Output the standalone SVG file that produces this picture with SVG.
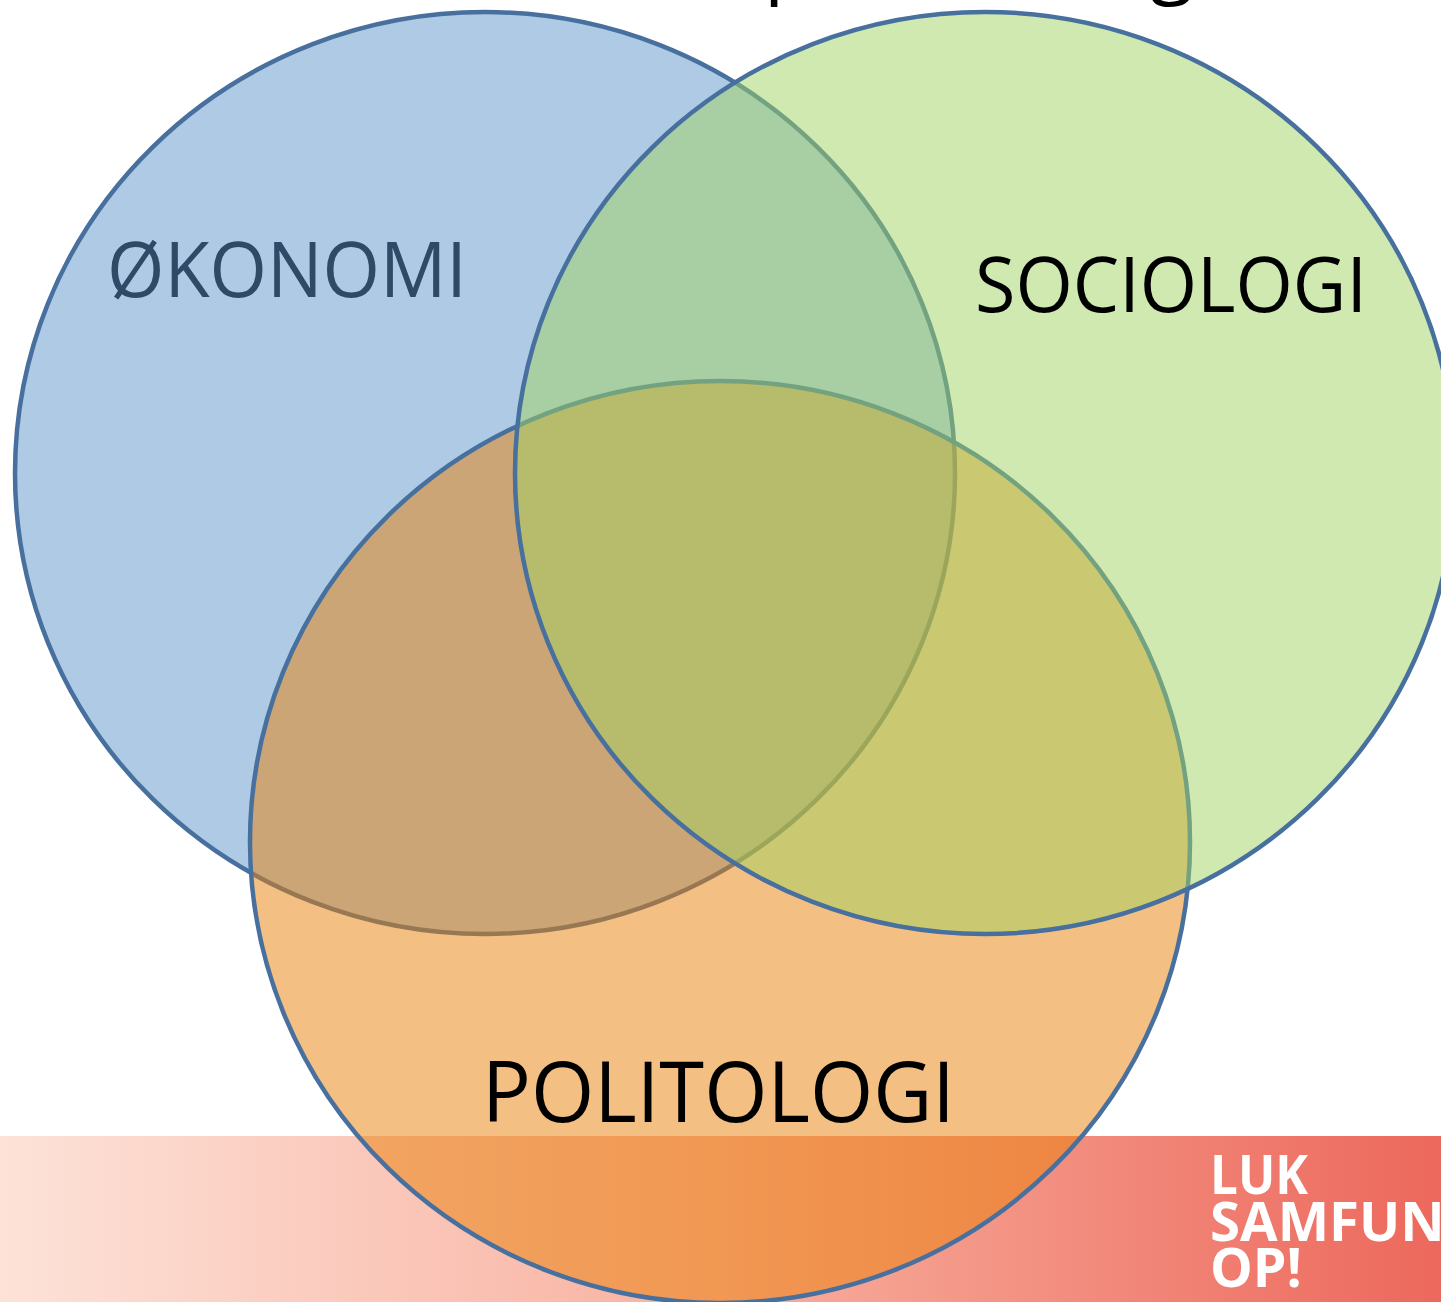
<svg xmlns="http://www.w3.org/2000/svg" width="1441" height="1302" viewBox="0 0 1441 1302">
  <defs>
    <linearGradient id="band" x1="0" y1="0" x2="1441" y2="0" gradientUnits="userSpaceOnUse">
      <stop offset="0" stop-color="#fde2d8"/>
      <stop offset="0.5" stop-color="#f8b09f"/>
      <stop offset="1" stop-color="#ec685c"/>
    </linearGradient>
  </defs>
  <style>
    .ring { stroke: #47709f; stroke-width: 4.5; }
    .lbl { font-family: "Open Sans", "Liberation Sans", Arial, sans-serif; }
    .logo { font-family: "Open Sans", "Liberation Sans", sans-serif; font-weight: bold; fill: #ffffff; font-size: 54px; }
    .title { font-family: "Open Sans", "Liberation Sans", sans-serif; font-size: 80px; fill: #000000; }
  </style>
  <rect width="1441" height="1302" fill="#ffffff"/>
  <g id="title">
    <text class="title" x="764" y="-12">p</text>
    <text class="title" x="1150" y="-12">g</text>
  </g>
  <g id="footer-band">
    <rect x="0" y="1136" width="1441" height="166" fill="url(#band)"/>
  </g>
  <g id="okonomi">
    <ellipse class="ring" cx="485" cy="473" rx="470" ry="461" fill="#aecae4"/>
  </g>
  <g id="politologi">
    <ellipse class="ring" cx="720" cy="842" rx="470" ry="461" fill="rgb(233,127,7)" fill-opacity="0.5"/>
  </g>
  <g id="sociologi">
    <ellipse class="ring" cx="985" cy="473" rx="470" ry="461" fill="rgb(159,211,97)" fill-opacity="0.5"/>
  </g>
  <g id="labels">
    <text class="lbl" x="107" y="297" font-size="77" fill="#2e4a66" textLength="360" lengthAdjust="spacingAndGlyphs">ØKONOMI</text>
    <text class="lbl" x="975" y="312" font-size="77" fill="#000000" textLength="392" lengthAdjust="spacingAndGlyphs">SOCIOLOGI</text>
    <text class="lbl" x="482" y="1122" font-size="85" fill="#000000" textLength="473" lengthAdjust="spacingAndGlyphs">POLITOLOGI</text>
  </g>
  <g id="logo">
    <text class="logo" x="1210" y="1194" textLength="98" lengthAdjust="spacingAndGlyphs">LUK</text>
    <text class="logo" x="1210" y="1241" textLength="275" lengthAdjust="spacingAndGlyphs">SAMFUND</text>
    <text class="logo" x="1210" y="1287" textLength="92" lengthAdjust="spacingAndGlyphs">OP!</text>
  </g>
</svg>
